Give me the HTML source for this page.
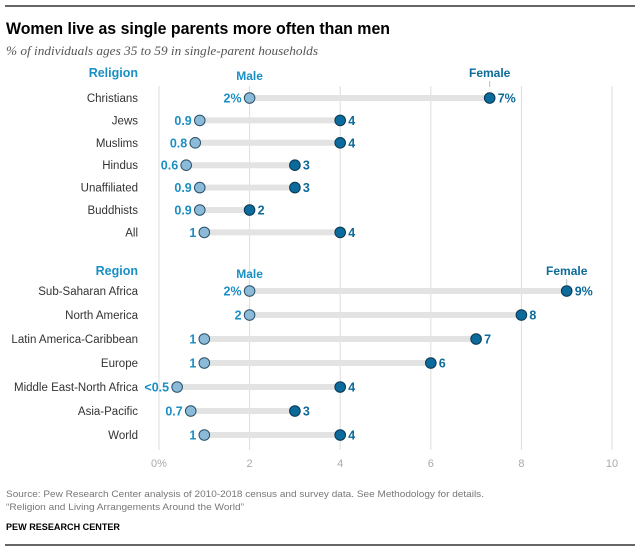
<!DOCTYPE html>
<html><head><meta charset="utf-8"><style>
body{margin:0;background:#fff;width:640px;height:551px;overflow:hidden;font-family:"Liberation Sans",Arial,sans-serif}
</style></head><body>
<svg id="c" width="640" height="551" xmlns="http://www.w3.org/2000/svg">
<line x1="5" y1="6" x2="635" y2="6" stroke="#666" stroke-width="2"/>
<text x="6" y="34" font-size="17" font-weight="bold" fill="#000" textLength="384" lengthAdjust="spacingAndGlyphs">Women live as single parents more often than men</text>
<text x="6" y="55" font-size="13" font-style="italic" fill="#555" font-family="Liberation Serif,serif" textLength="312" lengthAdjust="spacingAndGlyphs">% of individuals ages 35 to 59 in single-parent households</text>
<g id="grid"></g><g id="rows"></g>
<text x="6" y="497" font-size="9.5" fill="#777" textLength="478" lengthAdjust="spacingAndGlyphs">Source: Pew Research Center analysis of 2010-2018 census and survey data. See Methodology for details.</text>
<text x="6" y="510" font-size="9.5" fill="#777" textLength="238" lengthAdjust="spacingAndGlyphs">“Religion and Living Arrangements Around the World”</text>
<text x="6" y="530" font-size="9.5" font-weight="bold" fill="#000" textLength="114" lengthAdjust="spacingAndGlyphs">PEW RESEARCH CENTER</text>
<line x1="5" y1="545" x2="635" y2="545" stroke="#666" stroke-width="2"/>
</svg>
<script>
const relCats=["Christians","Jews","Muslims","Hindus","Unaffiliated","Buddhists","All"];
const relMale=[2,0.9,0.8,0.6,0.9,0.9,1];
const relFemale=[7.3,4,4,3,3,2,4];
const relMaleLbl=["2%","0.9","0.8","0.6","0.9","0.9","1"];
const relFemaleLbl=["7%","4","4","3","3","2","4"];
const regCats=["Sub-Saharan Africa","North America","Latin America-Caribbean","Europe","Middle East-North Africa","Asia-Pacific","World"];
const regMale=[2,2,1,1,0.4,0.7,1];
const regFemale=[9,8,7,6,4,3,4];
const regMaleLbl=["2%","2","1","1","<0.5","0.7","1"];
const regFemaleLbl=["9%","8","7","6","4","3","4"];
const ticks=[0,2,4,6,8,10];
const tickLbl=["0%","2","4","6","8","10"];
const NS="http://www.w3.org/2000/svg";
const x=v=>159+v*45.3;
function mk(p,t,a){const e=document.createElementNS(NS,t);for(const k in a)e.setAttribute(k,a[k]);p.appendChild(e);return e;}
const g=document.getElementById('grid'),r=document.getElementById('rows');
ticks.forEach((t,i)=>{
 const l=mk(g,'line',{x1:x(t),x2:x(t),y1:86,y2:450,stroke:'#ddd','stroke-width':1});
 
 
 const tx=mk(g,'text',{x:x(t),y:467,'font-size':11,fill:'#aaa','text-anchor':'middle'});tx.textContent=tickLbl[i];
 
 
});
function section(title,hy,cats,m,f,ml,fl,y0,dy){
 const h=mk(r,'text',{x:138,y:hy,'font-size':12.5,'font-weight':'bold',fill:'#1a8fc4','text-anchor':'end'});h.textContent=title;
 
 
 const mh=mk(r,'text',{x:x(m[0]),y:hy+3,'font-size':12,'font-weight':'bold',fill:'#1a8fc4','text-anchor':'middle'});mh.textContent='Male';
 
 
 const fh=mk(r,'text',{x:x(f[0]),y:hy,'font-size':12,'font-weight':'bold',fill:'#0d6a99','text-anchor':'middle'});fh.textContent='Female';
 
 
 mk(r,'line',{x1:x(f[0]),x2:x(f[0]),y1:hy+4,y2:hy+10,stroke:'#bbb'});
 cats.forEach((c,i)=>{
  const y=y0+i*dy;
  const lb=mk(r,'text',{x:138,y:y+4,'font-size':11.5,fill:'#333','text-anchor':'end'});lb.textContent=c;
  
  
  const bar=mk(r,'line',{x1:x(m[i]),x2:x(f[i]),y1:y,y2:y,stroke:'#e3e3e3','stroke-width':6});
  
  
  const md=mk(r,'circle',{cx:x(m[i]),cy:y,r:5.3,fill:'#8cbbd9',stroke:'#2a4f66','stroke-width':1});
  
  
  const fd=mk(r,'circle',{cx:x(f[i]),cy:y,r:5.3,fill:'#0b6b9c',stroke:'#0a3550','stroke-width':1});
  
  
  const mt=mk(r,'text',{x:x(m[i])-8,y:y+4.5,'font-size':12.5,'font-weight':'bold',fill:'#1a8fc4','text-anchor':'end'});mt.textContent=ml[i];
  
  
  const ft=mk(r,'text',{x:x(f[i])+8,y:y+4.5,'font-size':12.5,'font-weight':'bold',fill:'#0d6a99'});ft.textContent=fl[i];
  
  
 });
}
section('Religion',77,relCats,relMale,relFemale,relMaleLbl,relFemaleLbl,98,22.4);
section('Region',275,regCats,regMale,regFemale,regMaleLbl,regFemaleLbl,291,24);
</script>
</body></html>
